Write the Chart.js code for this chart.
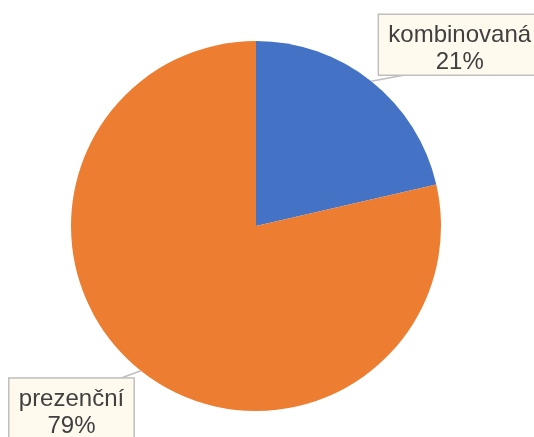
<!DOCTYPE html>
<html>
<head>
<meta charset="utf-8">
<script src="https://cdn.jsdelivr.net/npm/chart.js@4.4.0/dist/chart.umd.min.js"></script>
<style>
  html, body { margin: 0; padding: 0; background: #fff; }
  #wrap { width: 534px; height: 437px; }
</style>
</head>
<body>
<div id="wrap"><canvas id="c" width="534" height="437"></canvas></div>
<script>
const labels = ['kombinovaná', 'prezenční'];
const values = [21.4, 78.6];
const colors = ['#4472C4', '#ED7D31'];

// callout boxes with leader lines, Excel style
const callouts = {
  id: 'callouts',
  afterDatasetsDraw(chart) {
    const ctx = chart.ctx;
    const meta = chart.getDatasetMeta(0);
    const total = values.reduce((a, b) => a + b, 0);
    ctx.save();
    ctx.font = '24px "Liberation Sans", Arial, sans-serif';
    meta.data.forEach((arc, i) => {
      const mid = (arc.startAngle + arc.endAngle) / 2;
      const ex = arc.x + Math.cos(mid) * arc.outerRadius;
      const ey = arc.y + Math.sin(mid) * arc.outerRadius;
      const right = Math.cos(mid) >= 0;
      const down = Math.sin(mid) >= 0;
      const pct = Math.round(values[i] / total * 100) + '%';
      const tw = Math.max(ctx.measureText(labels[i]).width, ctx.measureText(pct).width);
      const w = tw + 20, h = 61;
      const cx = ex + (right ? 88.5 : -69.3);
      const cy = ey + (down ? 37.7 : -36.5);
      const bx = cx - w / 2, by = cy - h / 2;

      // leader line
      ctx.strokeStyle = '#BFBFBF';
      ctx.lineWidth = 1.5;
      ctx.beginPath();
      ctx.moveTo(ex, ey);
      if (down) ctx.lineTo(bx + w - 13, by);
      else ctx.lineTo(bx + 25, by + h);
      ctx.stroke();

      ctx.fillStyle = '#FFF9EE';
      ctx.fillRect(bx, by, w, h);
      ctx.lineWidth = 1.5;
      ctx.strokeRect(bx, by, w, h);

      ctx.fillStyle = '#404040';
      ctx.textAlign = 'center';
      ctx.textBaseline = 'alphabetic';
      ctx.fillText(labels[i], cx, by + 28);
      ctx.fillText(pct, cx, by + 55);
    });
    ctx.restore();
  }
};

new Chart(document.getElementById('c'), {
  type: 'pie',
  data: {
    labels: labels,
    datasets: [{
      data: values,
      backgroundColor: colors,
      borderWidth: 0
    }]
  },
  options: {
    responsive: false,
    animation: false,
    layout: { padding: { top: 41, bottom: 26, left: 71, right: 93 } },
    plugins: {
      legend: { display: false },
      tooltip: { enabled: false }
    }
  },
  plugins: [callouts]
});
</script>
</body>
</html>
